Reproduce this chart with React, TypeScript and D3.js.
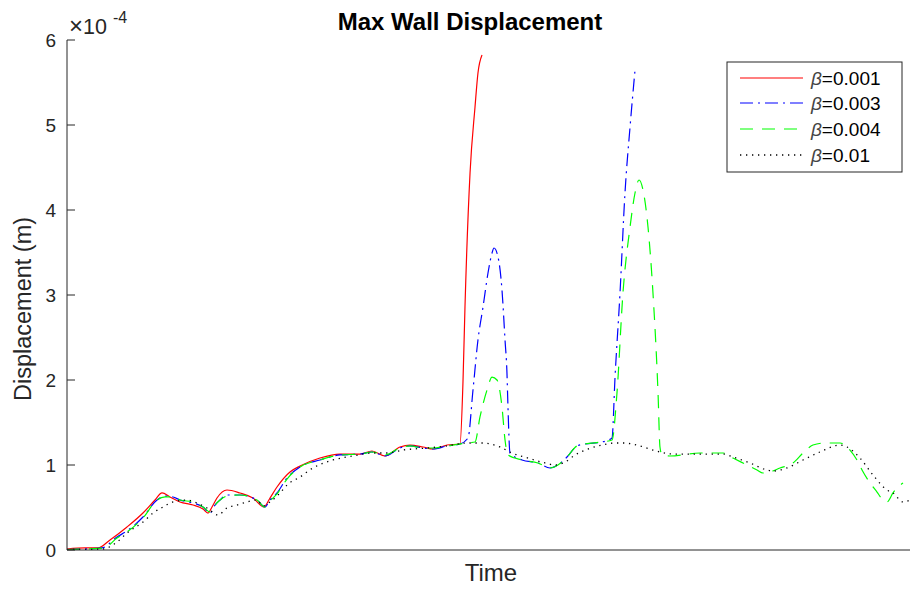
import React from "react";
import * as d3 from "d3";

// Time samples and wall displacement (×1e-4 m) for each damping coefficient β
const timeRed = [0, 2.14, 3.68, 5.1, 7.12, 9.01, 10.44, 11.27, 12.22, 13.4, 14.95, 16.13, 16.73, 17.2, 17.79, 18.98, 20.52, 22.06, 23.37, 24.08, 24.91, 26.45, 27.64, 30.01, 32.38, 34.76, 36.18, 37.72, 39.5, 40.69, 42.23, 43.42, 45.08, 46.62, 46.98, 47.21, 47.81, 48.4, 48.75, 49.23];
const dispRed = [0.012, 0.024, 0.024, 0.118, 0.271, 0.435, 0.588, 0.671, 0.624, 0.565, 0.529, 0.482, 0.435, 0.506, 0.612, 0.706, 0.671, 0.612, 0.506, 0.612, 0.741, 0.918, 0.988, 1.082, 1.129, 1.129, 1.165, 1.106, 1.212, 1.235, 1.212, 1.188, 1.235, 1.247, 2.0, 2.859, 4.435, 5.212, 5.612, 5.824];

const timeBlue = [0, 2.14, 4.15, 5.93, 7.12, 9.01, 10.68, 11.63, 12.57, 13.4, 14.95, 16.13, 16.96, 17.56, 18.15, 18.98, 20.52, 22.54, 23.49, 24.08, 24.91, 26.1, 27.64, 30.01, 32.38, 34.76, 36.18, 37.72, 39.5, 40.69, 42.23, 43.42, 45.08, 46.62, 47.57, 48.16, 48.75, 49.35, 49.94, 50.42, 50.65, 51.13, 51.6, 51.96, 52.19, 52.31, 52.55, 53.97, 55.87, 57.3, 58.24, 59.31, 60.5, 61.45, 63.46, 64.65, 65.01, 65.6, 66.19, 66.79, 67.38];
const dispBlue = [0.006, 0.012, 0.024, 0.153, 0.224, 0.388, 0.588, 0.635, 0.624, 0.588, 0.553, 0.506, 0.435, 0.529, 0.588, 0.647, 0.647, 0.588, 0.506, 0.588, 0.671, 0.847, 0.976, 1.059, 1.118, 1.129, 1.153, 1.106, 1.2, 1.224, 1.2, 1.188, 1.224, 1.247, 1.318, 1.882, 2.471, 2.859, 3.259, 3.494, 3.553, 3.447, 3.059, 2.471, 2.082, 1.682, 1.141, 1.059, 1.024, 0.965, 1.0, 1.094, 1.224, 1.247, 1.271, 1.318, 2.035, 3.024, 4.2, 4.976, 5.647];

const timeGreen = [0, 2.14, 4.39, 5.93, 7.12, 9.01, 10.68, 11.63, 12.57, 13.4, 14.95, 16.13, 16.96, 17.56, 18.15, 18.98, 20.52, 22.54, 23.49, 24.08, 24.91, 26.1, 27.64, 30.01, 32.38, 34.76, 36.18, 37.72, 39.5, 40.69, 42.23, 43.42, 45.08, 47.45, 48.4, 48.99, 49.82, 50.42, 51.01, 51.6, 51.96, 52.31, 53.97, 55.87, 57.3, 58.24, 59.31, 60.5, 61.45, 63.46, 64.65, 65.24, 65.95, 66.79, 67.38, 67.85, 68.33, 68.92, 69.51, 70.11, 70.34, 70.58, 71.53, 75.09, 77.82, 79.0, 80.66, 81.85, 82.56, 83.39, 84.58, 86.12, 87.31, 88.49, 89.92, 91.7, 92.88, 93.71, 94.31, 95.26, 96.09, 96.68, 97.27, 97.98, 98.58, 99.17];
const dispGreen = [0.006, 0.012, 0.024, 0.141, 0.212, 0.376, 0.588, 0.624, 0.624, 0.588, 0.565, 0.506, 0.447, 0.529, 0.588, 0.635, 0.647, 0.588, 0.506, 0.576, 0.659, 0.835, 0.976, 1.059, 1.118, 1.129, 1.153, 1.118, 1.2, 1.224, 1.2, 1.2, 1.224, 1.259, 1.271, 1.565, 1.882, 2.035, 2.0, 1.682, 1.294, 1.118, 1.059, 1.024, 0.965, 1.0, 1.094, 1.224, 1.247, 1.271, 1.294, 1.847, 3.024, 3.8, 4.2, 4.353, 4.235, 3.8, 3.024, 1.847, 1.212, 1.118, 1.106, 1.141, 1.141, 1.082, 1.0, 0.941, 0.906, 0.918, 0.965, 1.024, 1.141, 1.235, 1.259, 1.259, 1.176, 1.059, 0.941, 0.788, 0.682, 0.6, 0.565, 0.671, 0.741, 0.788];

const timeBlack = [0, 2.14, 4.27, 5.93, 7.12, 9.01, 10.2, 11.39, 12.57, 14.23, 15.42, 16.61, 17.91, 18.98, 20.17, 21.35, 22.54, 23.25, 24.08, 25.27, 26.1, 27.64, 29.18, 31.55, 33.93, 36.3, 37.96, 39.86, 42.7, 45.08, 47.45, 49.35, 51.36, 52.79, 54.69, 56.7, 57.89, 59.07, 60.26, 61.8, 63.46, 65.01, 65.95, 67.97, 69.51, 70.34, 71.89, 75.09, 77.82, 79.0, 81.02, 83.04, 83.75, 85.41, 87.31, 89.32, 91.7, 92.53, 94.07, 95.61, 97.27, 97.98, 99.17, 100];
const dispBlack = [0.006, 0.006, 0.012, 0.094, 0.2, 0.329, 0.435, 0.506, 0.565, 0.588, 0.553, 0.494, 0.412, 0.494, 0.529, 0.565, 0.588, 0.518, 0.565, 0.671, 0.765, 0.859, 0.965, 1.059, 1.106, 1.141, 1.141, 1.176, 1.2, 1.224, 1.259, 1.259, 1.212, 1.141, 1.082, 1.024, 1.0, 1.035, 1.118, 1.188, 1.235, 1.259, 1.259, 1.224, 1.176, 1.153, 1.129, 1.129, 1.129, 1.094, 1.024, 0.941, 0.929, 0.965, 1.059, 1.153, 1.235, 1.212, 1.082, 0.882, 0.706, 0.671, 0.565, 0.588];

const seriesLabels = ["0.001", "0.003", "0.004", "0.01"];
const yTicks = [0, 1, 2, 3, 4, 5, 6];

const series = [
  { label: seriesLabels[0], t: timeRed, v: dispRed, color: "#ff0000", dash: "none", width: 1.2 },
  { label: seriesLabels[1], t: timeBlue, v: dispBlue, color: "#0000ff", dash: "13,5,2,5", width: 1.2 },
  { label: seriesLabels[2], t: timeGreen, v: dispGreen, color: "#00ff00", dash: "13,9", width: 1.2 },
  { label: seriesLabels[3], t: timeBlack, v: dispBlack, color: "#000000", dash: "1.3,4.7", width: 1.3 },
];

const W = 912;
const H = 589;
const left = 67;
const right = 910;
const top = 40;
const bottom = 550;
const axisColor = "#262626";
const font = "'Liberation Sans', Arial, Helvetica, sans-serif";

export default function App() {
  const x = d3.scaleLinear().domain([0, 100]).range([left, right]);
  const y = d3.scaleLinear().domain([0, 6]).range([bottom, top]);
  const line = d3
    .line<[number, number]>()
    .x((d) => x(d[0]))
    .y((d) => y(d[1]))
    .curve(d3.curveMonotoneX);

  const legendX = 727;
  const legendY = 62;
  const legendW = 175;
  const legendH = 110;
  const rowY = [78, 103, 129, 155];

  return (
    <div style={{ position: "fixed", left: 0, top: 0, width: W, height: H, background: "#fff" }}>
      <svg width={W} height={H} style={{ display: "block" }} fontFamily={font}>
        <rect width={W} height={H} fill="#fff" />
        <defs>
          <clipPath id="plotArea">
            <rect x={left} y={top - 2} width={right - left + 2} height={bottom - top + 2} />
          </clipPath>
        </defs>

        {/* data lines */}
        <g clipPath="url(#plotArea)">
          {series.map((s) => (
            <path
              key={s.label}
              d={line(s.t.map((t, i) => [t, s.v[i]] as [number, number])) || ""}
              fill="none"
              stroke={s.color}
              strokeWidth={s.width}
              strokeDasharray={s.dash}
            />
          ))}
        </g>

        {/* axes */}
        <line x1={left} y1={top} x2={left} y2={bottom} stroke={axisColor} strokeWidth={1} />
        <line x1={left} y1={bottom} x2={right} y2={bottom} stroke={axisColor} strokeWidth={1} />
        {yTicks.map((v) => (
          <g key={v}>
            <line x1={left} x2={left + 8} y1={y(v)} y2={y(v)} stroke={axisColor} strokeWidth={1} />
            <text x={left - 11} y={y(v)} dy="0.36em" textAnchor="end" fontSize={19} fill={axisColor}>
              {v}
            </text>
          </g>
        ))}

        {/* exponent */}
        <text x={69} y={34} fontSize={21.5} fill={axisColor}>
          <tspan fontSize={24}>×</tspan>
          <tspan>10</tspan>
        </text>
        <text x={113} y={23} fontSize={16} fill={axisColor}>
          -4
        </text>

        {/* title and axis labels */}
        <text x={470} y={30} textAnchor="middle" fontSize={24} fontWeight="bold" fill="#000">
          Max Wall Displacement
        </text>
        <text x={491} y={581} textAnchor="middle" fontSize={24} fill={axisColor}>
          Time
        </text>
        <text
          transform={`translate(31, ${309}) rotate(-90)`}
          textAnchor="middle"
          fontSize={23.5}
          fill={axisColor}
        >
          Displacement (m)
        </text>

        {/* legend */}
        <rect x={legendX} y={legendY} width={legendW} height={legendH} fill="#fff" stroke={axisColor} strokeWidth={1} />
        {series.map((s, i) => (
          <g key={s.label}>
            <line
              x1={740}
              x2={803}
              y1={rowY[i]}
              y2={rowY[i]}
              stroke={s.color}
              strokeWidth={s.width}
              strokeDasharray={s.dash}
            />
            <text x={811} y={rowY[i]} dy="0.36em" fontSize={19} fill="#000">
              <tspan fontStyle="italic" fill="#444">β</tspan>
              <tspan>={s.label}</tspan>
            </text>
          </g>
        ))}
      </svg>
    </div>
  );
}
